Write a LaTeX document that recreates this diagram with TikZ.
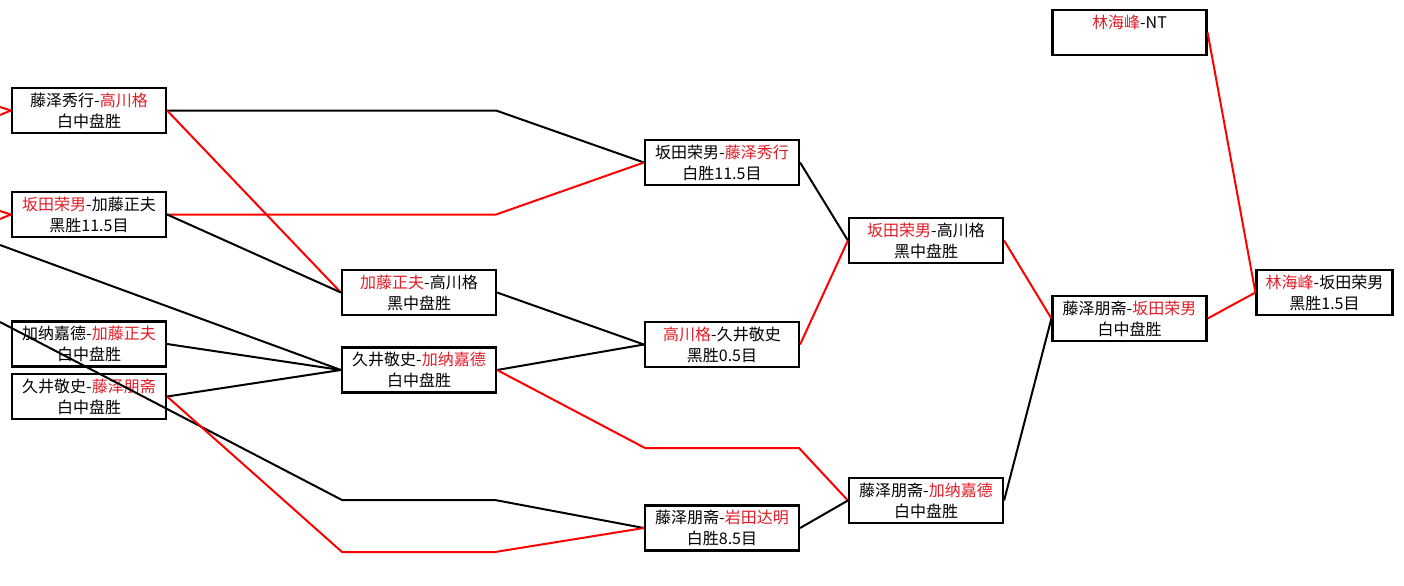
\documentclass[tikz,border=0pt]{standalone}
\usepackage{fontspec}
\setmainfont{Noto Sans CJK SC}
\definecolor{winred}{RGB}{225,30,40}
\newcommand{\win}[1]{\textcolor{winred}{#1}}

\begin{document}
\begin{tikzpicture}[x=0.5pt, y=-0.5pt,
    match/.style={draw, line width=1.1pt, minimum width=77pt, minimum height=22.5pt,
                  inner sep=0pt, align=center, font=\fontsize{8}{10.5}\selectfont},
    lose/.style={line width=1pt, black},
    won/.style={line width=1pt, red}]
    % Define canvas
    \fill[white] (0,0) rectangle (1404,585);
    \useasboundingbox (0,0) rectangle (1404,585);

    % Draw match boxes, round by round
    \node[match] (a1) at (89,110.5) {藤泽秀行-\win{高川格}\\白中盘胜};
    \node[match] (a2) at (89,214.5) {\win{坂田荣男}-加藤正夫\\黑胜11.5目};
    \node[match] (a3) at (89,344) {加纳嘉德-\win{加藤正夫}\\白中盘胜};
    \node[match] (a4) at (89,396.5) {久井敬史-\win{藤泽朋斋}\\白中盘胜};

    \node[match] (b1) at (419,292.5) {\win{加藤正夫}-高川格\\黑中盘胜};
    \node[match] (b2) at (419,370) {久井敬史-\win{加纳嘉德}\\白中盘胜};

    \node[match] (c1) at (722,162.5) {坂田荣男-\win{藤泽秀行}\\白胜11.5目};
    \node[match] (c2) at (722,344.5) {\win{高川格}-久井敬史\\黑胜0.5目};
    \node[match] (c3) at (722,528) {藤泽朋斋-\win{岩田达明}\\白胜8.5目};

    \node[match] (d1) at (926,240.5) {\win{坂田荣男}-高川格\\黑中盘胜};
    \node[match] (d2) at (926,500.5) {藤泽朋斋-\win{加纳嘉德}\\白中盘胜};

    \node[match] (e1) at (1129.5,318.5) {藤泽朋斋-\win{坂田荣男}\\白中盘胜};
    \node[match] (f0) at (1129.5,32.5) {\win{林海峰}-NT\\\mbox{}};
    \node[match, minimum width=68pt] (f1) at (1324.5,292.5) {\win{林海峰}-坂田荣男\\黑胜1.5目};

    % Define loose ends and bends
    \coordinate (in1a) at (0,107);
    \coordinate (in1b) at (0,115);
    \coordinate (in2a) at (0,211);
    \coordinate (in2b) at (0,219);
    \coordinate (in3) at (0,245);
    \coordinate (in4) at (0,322);
    \coordinate (k1) at (342,500);
    \coordinate (k2) at (495,500);
    \coordinate (k3) at (342,552);
    \coordinate (k4) at (495,552);
    \coordinate (k5) at (645,448);
    \coordinate (k6) at (799,448);

    % Draw connectors from the previous round
    \draw[won] (in1a) -- (a1.west);
    \draw[won] (in1b) -- (a1.west);
    \draw[won] (in2a) -- (a2.west);
    \draw[won] (in2b) -- (a2.west);
    \draw[lose] (in3) -- (b2.west);
    \draw[lose] (in4) -- (k1) -- (k2) -- (c3.west);

    % Draw connectors between rounds
    \draw[lose] (a1.east) -- ++(329,0) -- (c1.west);
    \draw[won] (a1.east) -- (b1.west);
    \draw[won] (a2.east) -- ++(329,0) -- (c1.west);
    \draw[lose] (a2.east) -- (b1.west);
    \draw[lose] (a3.east) -- (b2.west);
    \draw[lose] (a4.east) -- (b2.west);
    \draw[won] (a4.east) -- (k3) -- (k4) -- (c3.west);

    \draw[lose] (b1.east) -- (c2.west);
    \draw[lose] (b2.east) -- (c2.west);
    \draw[won] (b2.east) -- (k5) -- (k6) -- (d2.west);

    \draw[lose] (c1.east) -- (d1.west);
    \draw[won] (c2.east) -- (d1.west);
    \draw[lose] (c3.east) -- (d2.west);

    \draw[won] (d1.east) -- (e1.west);
    \draw[lose] (d2.east) -- (e1.west);

    \draw[won] (e1.east) -- (f1.west);
    \draw[won] (f0.east) -- (f1.west);
\end{tikzpicture}
\end{document}
